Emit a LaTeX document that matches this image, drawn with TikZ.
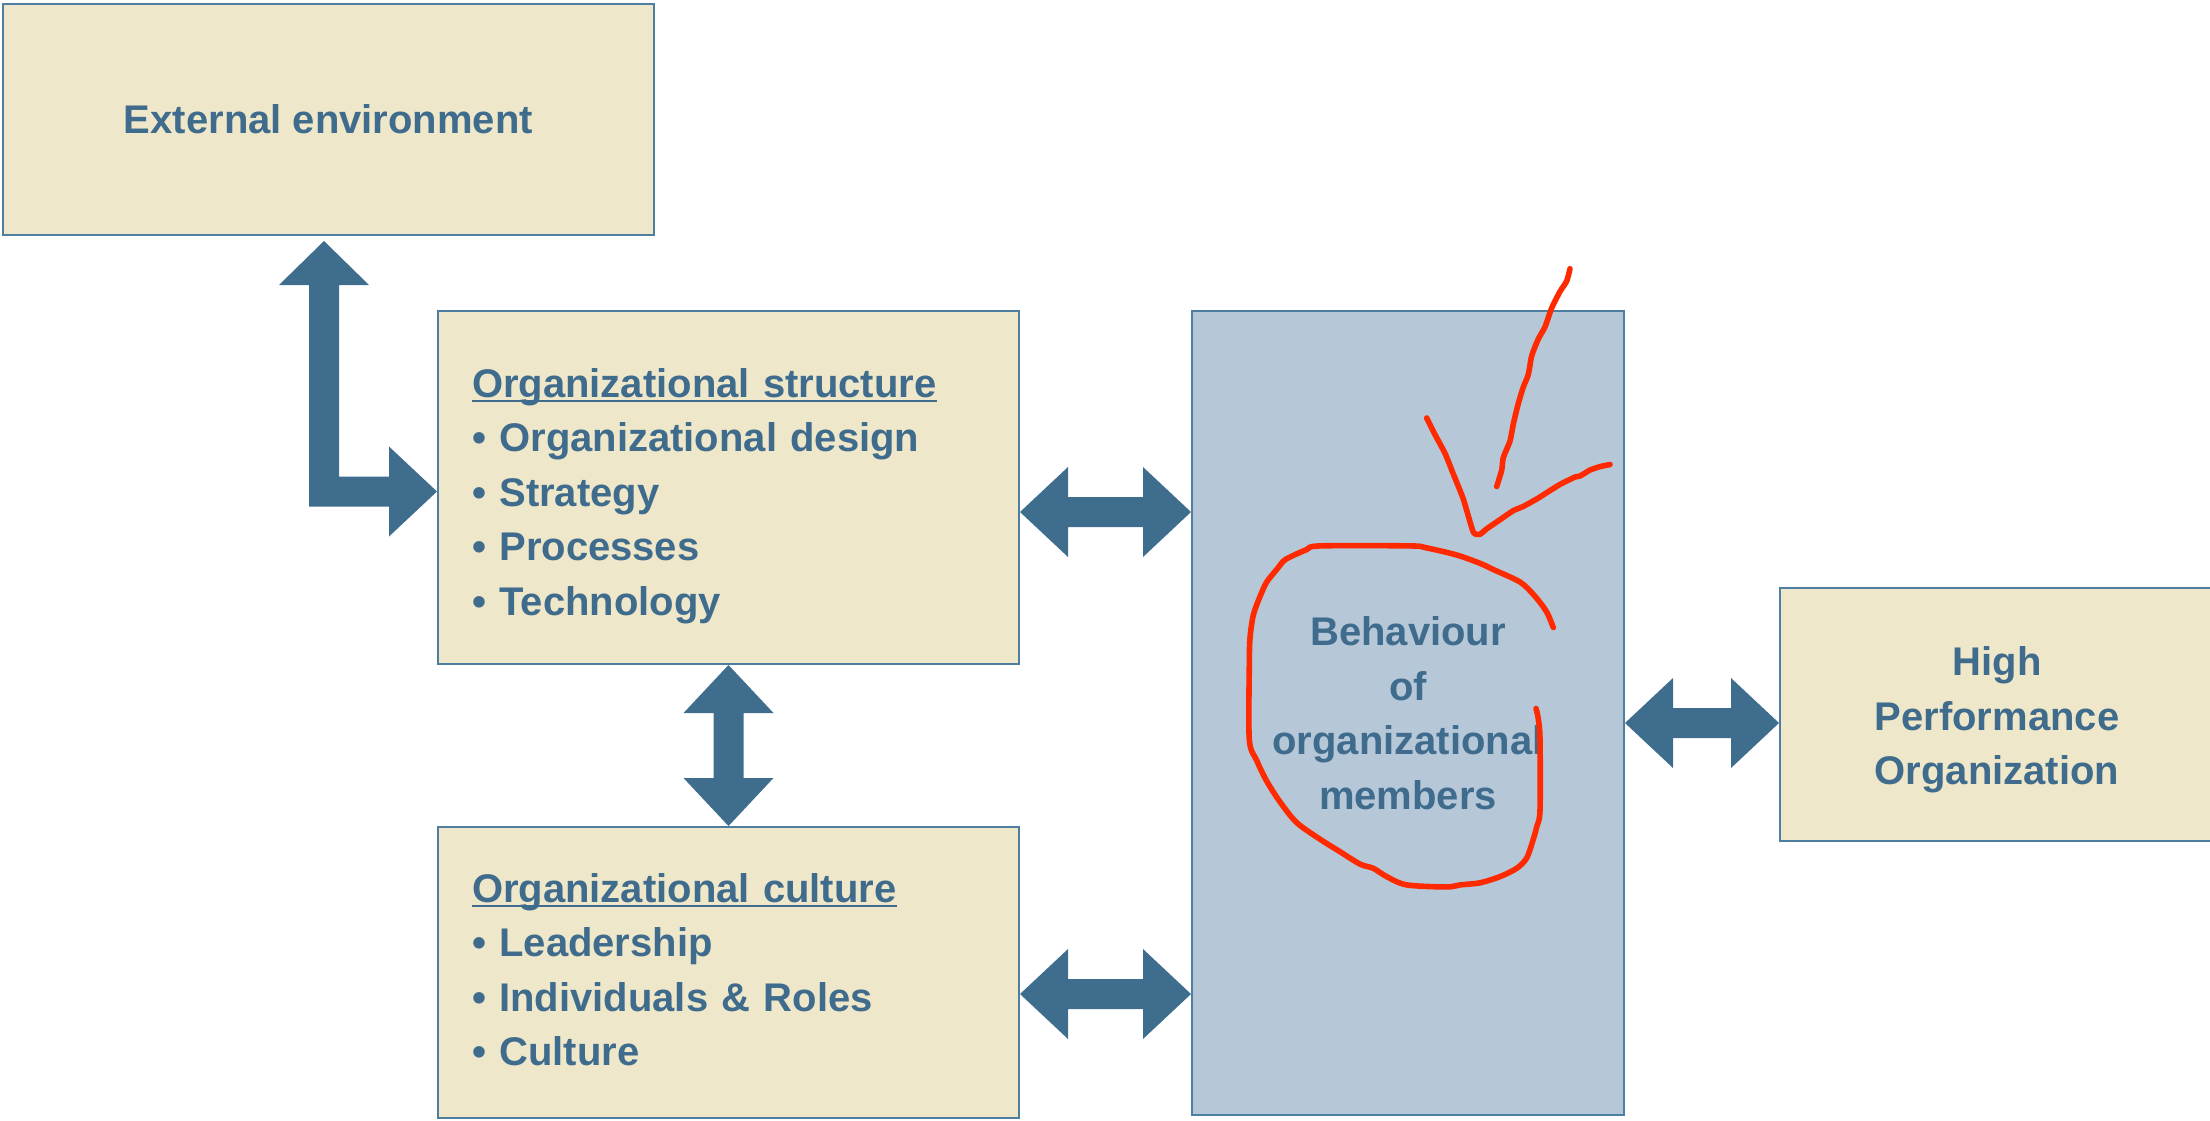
\documentclass[tikz,border=0pt]{standalone}
\usepackage{fontspec}
\setmainfont{Liberation Sans}
\usetikzlibrary{calc}
\definecolor{beige}{HTML}{EFE7CA}
\definecolor{bluebox}{HTML}{B6C7D8}
\definecolor{edgec}{HTML}{4F7FA0}
\definecolor{txtc}{HTML}{3F6C8D}
\definecolor{arrowc}{HTML}{3E6D8E}
\definecolor{redmark}{HTML}{FF2A00}
\newcommand\myul[1]{\setbox0\hbox{#1}\rlap{\rule[-2.4pt]{\wd0}{0.9pt}}\box0}
% horizontal double arrow: left tip, right tip
\newcommand\myharrow[2]{\fill[arrowc] let \p1=(#1), \p2=(#2) in
  (\x1,\y1) -- (\x1+24pt,\y1+22.5pt) -- (\x1+24pt,\y1+7.5pt) -- (\x2-24pt,\y1+7.5pt)
  -- (\x2-24pt,\y1+22.5pt) -- (\x2,\y1) -- (\x2-24pt,\y1-22.5pt) -- (\x2-24pt,\y1-7.5pt)
  -- (\x1+24pt,\y1-7.5pt) -- (\x1+24pt,\y1-22.5pt) -- cycle;}
% vertical double arrow: top tip, bottom tip
\newcommand\myvarrow[2]{\fill[arrowc] let \p1=(#1), \p2=(#2) in
  (\x1,\y1) -- (\x1+22.5pt,\y1-24pt) -- (\x1+7.5pt,\y1-24pt) -- (\x1+7.5pt,\y2+24pt)
  -- (\x1+22.5pt,\y2+24pt) -- (\x1,\y2) -- (\x1-22.5pt,\y2+24pt) -- (\x1-7.5pt,\y2+24pt)
  -- (\x1-7.5pt,\y1-24pt) -- (\x1-22.5pt,\y1-24pt) -- cycle;}
\begin{document}
\begin{tikzpicture}[x=0.5pt,y=-0.5pt,
  box/.style={draw=edgec, line width=1pt, fill=beige, inner sep=0pt, text=txtc,
    font=\fontsize{20}{27.25}\selectfont\bfseries, align=center},
  listbox/.style={box, align=left, inner xsep=17pt, text width=256.5pt},
  scribble/.style={draw=redmark, line width=2.8pt, line cap=round, line join=round}]
\useasboundingbox (0,0) rectangle (2210,1120);

\node[box, minimum width=325.5pt, minimum height=115.5pt] (e) at (328.5,119.5) {External environment};
\node[listbox, minimum width=290.5pt, minimum height=176.5pt] (s) at (728.5,487.5)
  {\rule{0pt}{23.1pt}\myul{Organizational structure}\\• Organizational design\\• Strategy\\• Processes\\• Technology};
\node[listbox, minimum width=290.5pt, minimum height=145.5pt] (c) at (728.5,972.5)
  {\myul{Organizational culture}\\• Leadership\\• Individuals \& Roles\\• Culture\rule[-2.8pt]{0pt}{0pt}};
\node[box, fill=bluebox, minimum width=216pt, minimum height=402pt] (b) at (1408,713)
  {Behaviour\\of\\organizational\\members};
\node[box, minimum width=217pt, minimum height=126.5pt] (h) at (1997,714.5)
  {\rule{0pt}{20.2pt}High\\Performance\\Organization};

\coordinate (yL) at (0,491.5);
\coordinate (y1) at (0,512);
\coordinate (y2) at (0,994);
\coordinate (y3) at (0,723);

% L-shaped arrow between external environment and structure
\fill[arrowc] let \p1=($(e.south)+(-4.5,5)$), \p2=(s.west |- yL) in
  (\x1,\y1) -- (\x1+22.5pt,\y1-22pt) -- (\x1+7.5pt,\y1-22pt) -- (\x1+7.5pt,\y2+7.5pt)
  -- (\x2-24pt,\y2+7.5pt) -- (\x2-24pt,\y2+22.5pt) -- (\x2,\y2) -- (\x2-24pt,\y2-22.5pt)
  -- (\x2-24pt,\y2-7.5pt) -- (\x1-7.5pt,\y2-7.5pt) -- (\x1-7.5pt,\y1-22pt)
  -- (\x1-22.5pt,\y1-22pt) -- cycle;

\myharrow{s.east |- y1}{b.west |- y1}
\myvarrow{s.south}{c.north}
\myharrow{c.east |- y2}{b.west |- y2}
\myharrow{b.east |- y3}{h.west |- y3}

% red hand-drawn annotation
\draw[scribble] plot[smooth, tension=0.4] coordinates {(1570,268.7) (1566.7,281) (1560,291.5)
  (1551.7,308) (1545,326.8) (1538.3,339) (1531.7,355.8) (1528.3,374.5) (1523.3,387)
  (1518.3,403.5) (1513.3,424) (1510,441) (1503.3,457.5) (1501.7,470) (1496.7,486.5)};
\draw[scribble] plot[smooth, tension=0.3] coordinates {(1426.7,418) (1435,434.6) (1445,453.3)
  (1453.3,474) (1463.3,499) (1473.3,532.2) (1480,534.2) (1486.7,528.8) (1500,519.7)
  (1513.3,510.6) (1523.3,506.4) (1536.7,499) (1546.7,492.7) (1560,484.4) (1575,477)
  (1580,476) (1590,470) (1600,466.6) (1610,464.5)};
\draw[scribble] plot[smooth, tension=0.5] coordinates {(1553.3,627.6) (1548.3,615.1)
  (1543.3,606.8) (1533.3,594.4) (1520,582) (1493.3,569.5) (1480,563.3) (1456.7,555)
  (1426.7,547.9) (1410,545.9) (1320,545.9) (1306.7,549.6) (1290,557) (1283.3,561.2)
  (1276.7,569.5) (1266.7,582) (1260,596.5) (1253.3,615.1) (1250,638) (1249.3,665)
  (1249.3,739.6) (1256.7,760.4) (1266.7,781.1) (1280,801.9) (1296.7,822.6) (1320,839.2)
  (1340,851.7) (1360,864.1) (1373.3,868.3) (1386.7,876.6) (1406.7,884.9) (1446.7,886.9)
  (1460,884.9) (1480,882.8) (1500,876.6) (1516.7,868.3) (1526.7,857.9) (1533.3,839.2)
  (1536.7,826.8) (1540,810.2) (1540,739.6) (1538.3,718.9) (1536,708.5)};
\end{tikzpicture}
\end{document}
